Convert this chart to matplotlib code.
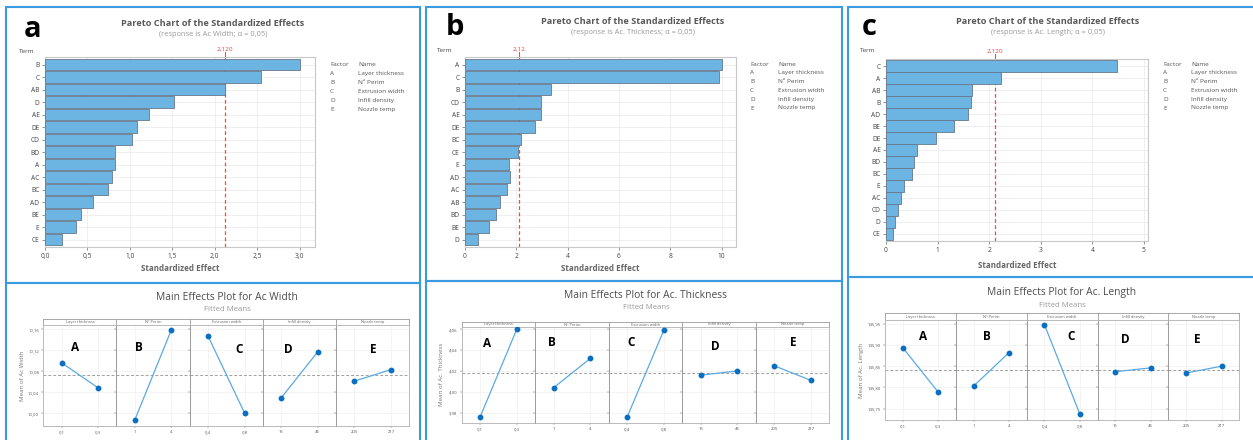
import matplotlib
matplotlib.use("Agg")
import matplotlib.pyplot as plt
from matplotlib.patches import Rectangle

plt.rcParams['font.family'] = ['Open Sans', 'DejaVu Sans']

W, H = 1253, 440

# --- Pareto data ---
factor_codes = ["A", "B", "C", "D", "E"]
factor_names = ["Layer thickness", "Nº Perim", "Extrusion width", "Infill density", "Nozzle temp"]

terms_a = ["B", "C", "AB", "D", "AE", "DE", "CD", "BD", "A", "AC", "BC", "AD", "BE", "E", "CE"]
effects_a = [3.00, 2.54, 2.12, 1.52, 1.22, 1.08, 1.03, 0.83, 0.82, 0.79, 0.74, 0.57, 0.42, 0.37, 0.20]

terms_b = ["A", "C", "B", "CD", "AE", "DE", "BC", "CE", "E", "AD", "AC", "AB", "BD", "BE", "D"]
effects_b = [10.0, 9.90, 3.35, 2.95, 2.96, 2.74, 2.18, 2.05, 1.72, 1.74, 1.63, 1.35, 1.19, 0.95, 0.49]

terms_c = ["C", "A", "AB", "B", "AD", "BE", "DE", "AE", "BD", "BC", "E", "AC", "CD", "D", "CE"]
effects_c = [4.47, 2.23, 1.67, 1.64, 1.59, 1.31, 0.96, 0.60, 0.55, 0.51, 0.34, 0.30, 0.23, 0.18, 0.13]

# --- Main effects data (fitted means, low / high level) ---
level_labels = [["0,1", "0,3"], ["1", "4"], ["0,4", "0,8"], ["15", "45"], ["205", "217"]]
means_width = [[10.096, 10.048], [9.987, 10.159], [10.147, 10.000], [10.029, 10.117], [10.061, 10.083]]
means_thick = [[3.976, 4.060], [4.004, 4.032], [3.976, 4.059], [4.016, 4.020], [4.025, 4.011]]
means_length = [[145.894, 145.789], [145.803, 145.882], [145.948, 145.737], [145.837, 145.846], [145.834, 145.850]]
grand_width, grand_thick, grand_length = 10.072, 4.018, 145.842

fig = plt.figure(figsize=(W / 100, H / 100), dpi=100)


def px_axes(x0, y0, x1, y1):
    return fig.add_axes([x0 / W, 1 - y1 / H, (x1 - x0) / W, (y1 - y0) / H])


def ftext(x, y, s, **kw):
    fig.text(x / W, 1 - y / H, s, **kw)


def pareto(box, terms, effects, xmax, xticks, xlabels, crit, crit_label,
           title_x, title_y, subtitle, term_xy, legend_xy, xlabel_xy, letter, letter_xy):
    x0, y0, x1, y1 = box
    ax = px_axes(x0, y0, x1, y1)
    pos = list(range(len(terms)))
    ax.barh(pos, effects, height=0.95, color='#6cb5e2', edgecolor='#66788c', linewidth=0.6, zorder=3)
    ax.axvline(crit, color='#f24b45', ls=(0, (3, 2)), lw=0.9, zorder=2)
    ax.plot([crit, crit], [-0.6, -1.0], color='#f24b45', lw=0.8, clip_on=False)
    ax.text(crit, -1.05, crit_label, color='#e8413c', fontsize=4.6, ha='center', va='bottom')
    ax.set_ylim(len(terms) - 0.4, -0.6)
    ax.set_xlim(0, xmax)
    ax.set_yticks(pos)
    ax.set_yticklabels(terms)
    ax.set_xticks(xticks)
    ax.set_xticklabels(xlabels)
    ax.tick_params(labelsize=4.8, colors='#444444', length=2, width=0.4, pad=2)
    ax.grid(True, color='#e9e9e9', lw=0.5, zorder=0)
    ax.set_axisbelow(True)
    for s in ax.spines.values():
        s.set_color('#c8c8c8')
        s.set_linewidth(0.8)
    ftext(title_x, title_y, "Pareto Chart of the Standardized Effects", fontsize=6.6,
          fontweight='bold', color='#595959', ha='center', va='center')
    ftext(title_x, title_y + 11, subtitle, fontsize=5.4, color='#9a9a9a', ha='center', va='center')
    ftext(term_xy[0], term_xy[1], "Term", fontsize=4.6, color='#444444', ha='center', va='center')
    ftext(xlabel_xy[0], xlabel_xy[1], "Standardized Effect", fontsize=5.8, fontweight='bold',
          color='#666666', ha='center', va='center')
    lx, ly = legend_xy
    ftext(lx, ly, "Factor", fontsize=4.6, color='#555555', va='center')
    ftext(lx + 28, ly, "Name", fontsize=4.6, color='#555555', va='center')
    for i, (c, n) in enumerate(zip(factor_codes, factor_names)):
        ftext(lx, ly + 8.8 * (i + 1), c, fontsize=4.6, color='#555555', va='center')
        ftext(lx + 28, ly + 8.8 * (i + 1), n, fontsize=4.6, color='#555555', va='center')
    ftext(letter_xy[0], letter_xy[1], letter, fontsize=21, fontweight='bold', color='black',
          ha='left', va='baseline')


def main_effects(plot_x, strip_y, data_y, means, grand, ylim, yticks, ylabels, ylabel,
                 title, title_x, title_y, ylabel_x, letter_pos):
    px0, px1 = plot_x
    pw = (px1 - px0) / 5
    for i in range(5):
        xa = px0 + i * pw
        xb = xa + pw
        st = px_axes(xa, strip_y[0], xb, strip_y[1])
        st.set_xticks([])
        st.set_yticks([])
        for s in st.spines.values():
            s.set_color('#9a9a9a')
            s.set_linewidth(0.6)
        st.text(0.5, 0.5, factor_names[i], fontsize=2.9, color='#666666', ha='center', va='center',
                transform=st.transAxes)
        ax = px_axes(xa, data_y[0], xb, data_y[1])
        ax.plot([0, 1], means[i], color='#5aaae2', lw=0.9, zorder=3)
        ax.plot([0, 1], means[i], 'o', color='#0a6fc2', ms=3.2, zorder=4)
        ax.axhline(grand, color='#a0a0a0', ls=(0, (3, 2)), lw=0.7, zorder=2)
        ax.set_xlim(-0.5, 1.5)
        ax.set_ylim(*ylim)
        ax.set_xticks([0, 1])
        ax.set_xticklabels(level_labels[i])
        ax.set_yticks(yticks)
        if i == 0:
            ax.set_yticklabels(ylabels)
        else:
            ax.tick_params(axis='y', length=0, labelleft=False)
        ax.tick_params(labelsize=3.1, colors='#555555', length=1.5, width=0.3, pad=1.5)
        ax.grid(True, color='#ececec', lw=0.4, zorder=0)
        ax.set_axisbelow(True)
        for name, s in ax.spines.items():
            s.set_linewidth(0.6)
            s.set_color('#b0b0b0')
        if i > 0:
            ax.spines['left'].set_color('#8a8a8a')
    ftext(title_x, title_y, title, fontsize=7.4, color='#4d4d4d', fontweight='medium',
          ha='center', va='center')
    ftext(title_x, title_y + 12.5, "Fitted Means", fontsize=5.6, color='#9a9a9a', ha='center', va='center')
    ftext(ylabel_x, (data_y[0] + data_y[1]) / 2, ylabel, fontsize=4.4, color='#777777',
          rotation=90, ha='center', va='center')
    for L, (x, y) in zip(factor_codes, letter_pos):
        ftext(x, y, L, fontsize=8.5, fontweight='bold', color='black', ha='center', va='center')


pareto((45, 57, 315, 247), terms_a, effects_a, 3.18, [0, 0.5, 1, 1.5, 2, 2.5, 3],
       ["0,0", "0,5", "1,0", "1,5", "2,0", "2,5", "3,0"], 2.12, "2,120",
       213, 23, "(response is Ac Width; α = 0,05)", (27, 51), (330, 65), (180, 268), "a", (24, 37))
pareto((465, 57, 736, 247), terms_b, effects_b, 10.56, [0, 2, 4, 6, 8, 10],
       ["0", "2", "4", "6", "8", "10"], 2.12, "2,12",
       633, 21, "(response is Ac. Thickness; α = 0,05)", (445, 50), (750, 64), (600, 268), "b", (446, 35))
pareto((886, 59, 1148, 241), terms_c, effects_c, 5.08, [0, 1, 2, 3, 4, 5],
       ["0", "1", "2", "3", "4", "5"], 2.12, "2,120",
       1048, 22, "(response is Ac. Length; α = 0,05)", (868, 50), (1163, 64), (1017, 265), "c", (862, 35))

main_effects((43.3, 409.3), (319, 325), (325, 425.7), means_width, grand_width, (9.976, 10.168),
             [10.00, 10.04, 10.08, 10.12, 10.16], ["10,00", "10,04", "10,08", "10,12", "10,16"],
             "Mean of Ac Width", "Main Effects Plot for Ac Width", 227, 297, 22.5,
             [(75, 347), (139, 347), (239, 349), (288, 349), (373, 349)])
main_effects((461.7, 829.3), (322, 327), (327, 422.7), means_thick, grand_thick, (3.9706, 4.062),
             [3.98, 4.00, 4.02, 4.04, 4.06], ["3,98", "4,00", "4,02", "4,04", "4,06"],
             "Mean of Ac. Thickness", "Main Effects Plot for Ac. Thickness", 646, 295, 441.7,
             [(487, 343), (552, 342), (631, 342), (715, 346), (793, 342)])
main_effects((885, 1239.3), (313.3, 320), (320, 420), means_length, grand_length, (145.723, 145.959),
             [145.75, 145.80, 145.85, 145.90, 145.95], ["145,75", "145,80", "145,85", "145,90", "145,95"],
             "Mean of Ac. Length", "Main Effects Plot for Ac. Length", 1062, 293, 861.7,
             [(923, 337), (987, 337), (1071, 336), (1125, 339), (1197, 339)])

# blue panel frames
frames = [(5.7, 7, 420, 283), (5.7, 283, 420, 446), (426, 6.7, 842, 281), (426, 281, 842, 446),
          (848, 7, 1256, 277), (848, 277, 1256, 446)]
for x0, y0, x1, y1 in frames:
    fig.patches.append(Rectangle((x0 / W, 1 - y1 / H), (x1 - x0) / W, (y1 - y0) / H,
                                 transform=fig.transFigure, fill=False, edgecolor='#3a9be0',
                                 linewidth=1.5, zorder=10))

fig.savefig("out.png", dpi=100)
